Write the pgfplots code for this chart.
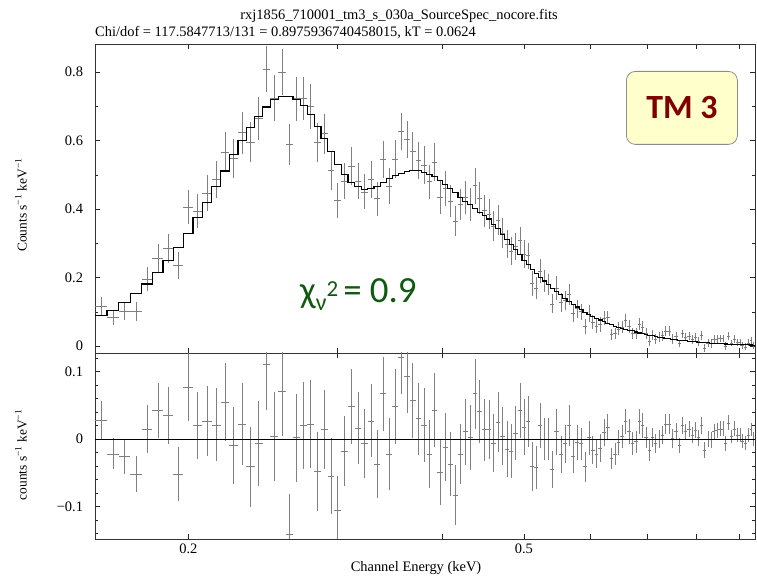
\documentclass[border=0pt]{standalone}
\usepackage{fontspec}
\setmainfont{Liberation Serif}
\newfontfamily\carlito{Carlito}
\usepackage{pgfplots}
\usepackage{pgfplotstable}
\pgfplotsset{compat=1.18}

\pgfplotstableread{
E dE M D eR R
0.1575 0.00265 0.088 0.116 0.028 0.028
0.1628 0.00265 0.105 0.083 0.023 -0.022
0.1681 0.00265 0.128 0.102 0.026 -0.026
0.1734 0.00265 0.153 0.101 0.027 -0.052
0.1787 0.00265 0.181 0.196 0.035 0.015
0.1840 0.00265 0.215 0.257 0.041 0.042
0.1893 0.00265 0.249 0.284 0.042 0.035
0.1946 0.00265 0.288 0.236 0.040 -0.052
0.1999 0.00265 0.329 0.406 0.050 0.077
0.2052 0.00265 0.374 0.394 0.049 0.020
0.2105 0.00265 0.420 0.447 0.052 0.027
0.2158 0.00265 0.466 0.487 0.054 0.021
0.2211 0.00265 0.511 0.566 0.058 0.055
0.2264 0.00265 0.558 0.549 0.057 -0.009
0.2317 0.00265 0.601 0.623 0.061 0.022
0.2370 0.00265 0.637 0.596 0.059 -0.041
0.2423 0.00265 0.671 0.664 0.063 -0.007
0.2476 0.00265 0.698 0.809 0.068 0.111
0.2529 0.00265 0.720 0.724 0.066 0.004
0.2582 0.00265 0.729 0.800 0.067 0.071
0.2635 0.00265 0.729 0.588 0.060 -0.141
0.2688 0.00265 0.720 0.722 0.065 0.002
0.2741 0.00265 0.703 0.723 0.064 0.020
0.2794 0.00265 0.677 0.699 0.065 0.022
0.2847 0.00265 0.642 0.594 0.058 -0.048
0.2900 0.00265 0.606 0.620 0.059 0.014
0.2953 0.00265 0.568 0.513 0.056 -0.055
0.3008 0.00285 0.530 0.425 0.050 -0.105
0.3065 0.00285 0.500 0.482 0.052 -0.018
0.3122 0.00285 0.478 0.526 0.055 0.048
0.3179 0.00285 0.465 0.481 0.053 0.016
0.3236 0.00285 0.457 0.450 0.051 -0.007
0.3293 0.00285 0.459 0.486 0.054 0.027
0.3350 0.00285 0.467 0.430 0.050 -0.037
0.3407 0.00285 0.478 0.545 0.055 0.067
0.3464 0.00285 0.489 0.467 0.053 -0.022
0.3521 0.00285 0.498 0.546 0.055 0.048
0.3578 0.00285 0.505 0.626 0.055 0.121
0.3635 0.00285 0.510 0.603 0.055 0.093
0.3692 0.00285 0.513 0.570 0.056 0.057
0.3749 0.00285 0.512 0.542 0.053 0.030
0.3806 0.00285 0.508 0.529 0.055 0.021
0.3863 0.00285 0.502 0.480 0.050 -0.022
0.3920 0.00285 0.494 0.537 0.055 0.043
0.3977 0.00285 0.484 0.435 0.049 -0.049
0.4034 0.00285 0.472 0.460 0.050 -0.012
0.4091 0.00285 0.460 0.423 0.047 -0.037
0.4148 0.00285 0.448 0.365 0.044 -0.083
0.4205 0.00285 0.435 0.413 0.045 -0.022
0.4262 0.00285 0.423 0.434 0.049 0.011
0.4319 0.00285 0.412 0.414 0.048 0.002
0.4376 0.00285 0.401 0.468 0.052 0.067
0.4433 0.00285 0.391 0.432 0.047 0.041
0.4490 0.00285 0.381 0.395 0.046 0.014
0.4547 0.00285 0.371 0.385 0.044 0.014
0.4604 0.00285 0.356 0.350 0.043 -0.006
0.4661 0.00285 0.342 0.367 0.044 0.025
0.4718 0.00285 0.326 0.330 0.043 0.004
0.4775 0.00285 0.312 0.297 0.041 -0.015
0.4832 0.00285 0.296 0.278 0.040 -0.018
0.4889 0.00285 0.282 0.291 0.040 0.009
0.4946 0.00285 0.266 0.308 0.041 0.042
0.5003 0.00285 0.251 0.269 0.041 0.018
0.5060 0.00285 0.238 0.264 0.038 0.026
0.5117 0.00285 0.224 0.183 0.036 -0.041
0.5174 0.00285 0.211 0.169 0.032 -0.042
0.5231 0.00285 0.199 0.219 0.034 0.020
0.5288 0.00285 0.190 0.190 0.031 0.000
0.5345 0.00285 0.180 0.180 0.031 0.000
0.5405 0.00315 0.168 0.123 0.028 -0.045
0.5468 0.00315 0.158 0.169 0.034 0.011
0.5531 0.00315 0.150 0.127 0.027 -0.023
0.5594 0.00315 0.140 0.133 0.028 -0.007
0.5657 0.00315 0.131 0.151 0.031 0.020
0.5720 0.00315 0.122 0.096 0.025 -0.026
0.5783 0.00315 0.114 0.109 0.026 -0.005
0.5846 0.00315 0.107 0.100 0.024 -0.007
0.5909 0.00315 0.099 0.058 0.022 -0.041
0.5972 0.00315 0.092 0.094 0.025 0.002
0.6035 0.00315 0.086 0.070 0.021 -0.016
0.6098 0.00315 0.080 0.058 0.021 -0.022
0.6161 0.00315 0.076 0.063 0.021 -0.013
0.6224 0.00315 0.071 0.081 0.020 0.010
0.6287 0.00315 0.066 0.084 0.019 0.018
0.6350 0.00315 0.062 0.033 0.016 -0.029
0.6413 0.00315 0.058 0.036 0.016 -0.022
0.6476 0.00315 0.055 0.050 0.019 -0.005
0.6539 0.00315 0.052 0.056 0.017 0.004
0.6602 0.00315 0.049 0.075 0.019 0.026
0.6665 0.00315 0.046 0.057 0.018 0.011
0.6728 0.00315 0.044 0.037 0.017 -0.007
0.6791 0.00315 0.041 0.037 0.016 -0.004
0.6854 0.00315 0.038 0.064 0.018 0.026
0.6917 0.00315 0.036 0.056 0.018 0.020
0.6980 0.00315 0.034 0.036 0.016 0.002
0.7043 0.00315 0.032 0.015 0.015 -0.017
0.7106 0.00315 0.030 0.032 0.014 0.002
0.7169 0.00315 0.028 0.021 0.014 -0.007
0.7232 0.00315 0.026 0.026 0.014 0.000
0.7298 0.00345 0.024 0.030 0.014 0.006
0.7367 0.00345 0.022 0.044 0.015 0.022
0.7436 0.00345 0.021 0.043 0.015 0.022
0.7505 0.00345 0.019 0.020 0.014 0.001
0.7574 0.00345 0.018 0.029 0.013 0.011
0.7643 0.00345 0.017 0.008 0.011 -0.009
0.7712 0.00345 0.016 0.036 0.012 0.020
0.7781 0.00345 0.015 0.026 0.012 0.011
0.7850 0.00345 0.014 0.029 0.012 0.015
0.7919 0.00345 0.013 0.019 0.012 0.006
0.7988 0.00345 0.012 0.025 0.012 0.013
0.8057 0.00345 0.011 0.013 0.012 0.002
0.8126 0.00345 0.010 0.030 0.013 0.020
0.8195 0.00345 0.0095 -0.0065 0.012 -0.016
0.8264 0.00345 0.0090 0.0090 0.012 0.000
0.8333 0.00345 0.0085 0.0075 0.012 -0.001
0.8402 0.00345 0.0080 0.0190 0.012 0.011
0.8471 0.00345 0.0075 0.0205 0.011 0.013
0.8540 0.00345 0.0070 0.0220 0.011 0.015
0.8609 0.00345 0.0065 0.0215 0.011 0.015
0.8678 0.00345 0.0060 0.0000 0.011 -0.006
0.8747 0.00345 0.0055 0.0295 0.011 0.024
0.8816 0.00345 0.0050 0.0090 0.010 0.004
0.8885 0.00345 0.0047 0.0197 0.011 0.015
0.8954 0.00345 0.0044 0.0104 0.011 0.006
0.9023 0.00345 0.0041 0.0101 0.010 0.006
0.9092 0.00345 0.0038 0.0008 0.010 -0.003
0.9161 0.00345 0.0035 -0.0025 0.010 -0.006
0.9230 0.00345 0.0032 0.0092 0.010 0.006
0.9299 0.00345 0.0030 0.0170 0.010 0.014
0.9368 0.00345 0.0027 0.0027 0.010 0.000
}\spec

\definecolor{tmred}{RGB}{128,0,0}
\definecolor{chigreen}{RGB}{14,90,14}
\definecolor{boxyellow}{RGB}{255,255,204}

\begin{document}
\fontsize{14.5}{17}\selectfont
\begin{tikzpicture}
\path[use as bounding box] (0bp,0bp) rectangle (757bp,577bp);

% upper panel
\begin{axis}[
  xmode=log,
  scale only axis, width=660bp, height=309bp,
  at={(95bp,224bp)}, anchor=south west,
  xmin=0.155, xmax=0.94,
  xtick={0.2,0.3,0.4,0.5,0.6,0.7,0.8,0.9},
  xticklabels={},
  ymin=-0.0204, ymax=0.882,
  ytick={0,0.2,0.4,0.6,0.8}, yticklabels={0,0.2,0.4,0.6,0.8},
  minor ytick={0.1,0.3,0.5,0.7},
  tick align=inside,
  major tick length=5bp, minor tick length=3bp,
  axis line style={black!80, line width=0.6pt},
  tick style={black!85, line width=0.5pt},
  tick label style={font=\fontsize{14.5}{17}\selectfont},
  yticklabel style={xshift=-7bp},
]
\addplot[only marks, mark=*, mark size=0pt, mark options={draw=none, fill=none},
  error bars/.cd, x dir=both, x explicit, y dir=both, y explicit, error mark=none,
  error bar style={black!50, line width=0.6bp}]
  table[x=E, y=D, x error=dE, y error=eR]{\spec};
\addplot[black, line width=1.1bp, const plot mark left]
  table[x expr=\thisrow{E}-\thisrow{dE}, y=M]{\spec};
\addplot[black, line width=1.1bp] coordinates {(0.93335,0.0027)(0.94,0.0027)};
\end{axis}

% residual panel
\begin{axis}[
  xmode=log,
  scale only axis, width=660bp, height=186bp,
  at={(95bp,38bp)}, anchor=south west,
  xmin=0.155, xmax=0.94,
  xtick={0.2,0.3,0.4,0.5,0.6,0.7,0.8,0.9},
  xticklabels={0.2,,,0.5,,,,},
  ymin=-0.148, ymax=0.1274,
  ytick={-0.1,0,0.1}, yticklabels={−0.1,0,0.1},
  minor ytick={-0.14,-0.12,-0.08,-0.06,-0.04,-0.02,0.02,0.04,0.06,0.08,0.12},
  tick align=inside,
  major tick length=5bp, minor tick length=3bp,
  axis line style={black!80, line width=0.6pt},
  tick style={black!85, line width=0.5pt},
  tick label style={font=\fontsize{14.5}{17}\selectfont},
  yticklabel style={xshift=-7bp},
]
\addplot[only marks, mark=*, mark size=0pt, mark options={draw=none, fill=none},
  error bars/.cd, x dir=both, x explicit, y dir=both, y explicit, error mark=none,
  error bar style={black!50, line width=0.6bp}]
  table[x=E, y=R, x error=dE, y error=eR]{\spec};
\addplot[black, line width=1bp] coordinates {(0.155,0)(0.94,0)};
\end{axis}

% titles and labels
\node[anchor=base, inner sep=0] at (399bp,557bp) {rxj1856\_710001\_tm3\_s\_030a\_SourceSpec\_nocore.fits};
\node[anchor=base west, inner sep=0] at (95bp,540bp) {Chi/dof = 117.5847713/131 = 0.8975936740458015, kT = 0.0624};
\node[anchor=base, inner sep=0] at (416bp,6bp) {Channel Energy (keV)};
\node[rotate=90, inner sep=0, font=\fontsize{13.5}{16}\selectfont] at (21bp,372bp) {Counts s\textsuperscript{−1} keV\textsuperscript{−1}};
\node[rotate=90, inner sep=0, font=\fontsize{13.5}{16}\selectfont] at (21bp,122bp) {counts s\textsuperscript{−1} keV\textsuperscript{−1}};

% annotations
\node[draw=black!45, line width=0.8bp, fill=boxyellow, rounded corners=9bp,
      minimum width=111bp, minimum height=73bp, inner sep=0, anchor=north west,
      text=tmred, font=\carlito\bfseries\fontsize{34}{34}\selectfont] at (626bp,506bp) {TM 3};
\node[anchor=base west, inner sep=0, text=chigreen, font=\carlito\fontsize{37}{37}\selectfont] at (300bp,274bp)
  {χ\raisebox{-8bp}{\fontsize{24}{24}\selectfont ν}\raisebox{6bp}{\fontsize{23}{23}\selectfont 2}\hspace{5bp}= 0.9};
\end{tikzpicture}
\end{document}
